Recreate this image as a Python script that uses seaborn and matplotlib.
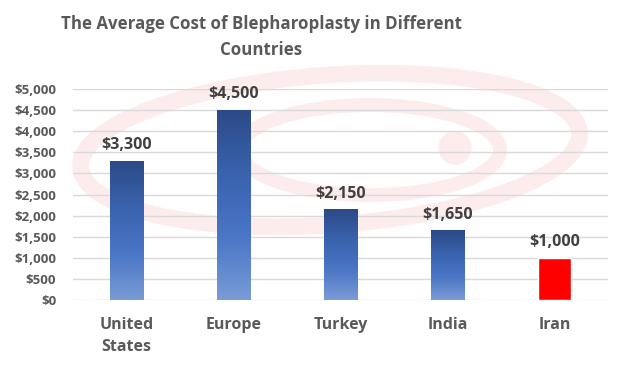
import numpy as np
import pandas as pd
import matplotlib.pyplot as plt
import seaborn as sns
from matplotlib.patches import Ellipse, Circle
from matplotlib.colors import LinearSegmentedColormap

countries = ["United\nStates", "Europe", "Turkey", "India", "Iran"]
costs = [3300, 4500, 2150, 1650, 1000]
bar_colors = ["#4472C4", "#4472C4", "#4472C4", "#4472C4", "#FF0000"]
label_texts = ["$3,300", "$4,500", "$2,150", "$1,650", "$1,000"]

df = pd.DataFrame({"country": countries, "cost": costs})

sns.set_theme(style="white")
plt.rcParams["font.family"] = ["Open Sans", "DejaVu Sans"]

fig = plt.figure(figsize=(6.18, 3.66), dpi=100)

# faint watermark logo behind the chart
bg = fig.add_axes([0, 0, 1, 1], zorder=-1)
bg.set_xlim(0, 618)
bg.set_ylim(366, 0)
bg.axis("off")
wm = "#fdecec"
bg.add_patch(Ellipse((330, 150), 500, 150, angle=-4, fill=False, ec=wm, lw=12))
bg.add_patch(Ellipse((370, 150), 260, 90, fill=False, ec=wm, lw=10))
bg.add_patch(Circle((455, 148), 16, color=wm))

ax = fig.add_axes([0.118, 0.18, 0.866, 0.577])
sns.barplot(data=df, x="country", y="cost", hue="country", palette=bar_colors,
            legend=False, width=0.31, ax=ax, zorder=3, saturation=1)

# gradient fill for the blue bars
cmap = LinearSegmentedColormap.from_list("blu", ["#7a9bd6", "#4a76c6", "#3a62ad", "#2b4a86"])
grad = np.linspace(0, 1, 256).reshape(-1, 1)
for i, bar in enumerate(ax.patches):
    if i == 4:
        continue
    x0, y0 = bar.get_x(), bar.get_y()
    w, h = bar.get_width(), bar.get_height()
    im = ax.imshow(grad, cmap=cmap, origin="lower", aspect="auto",
                   extent=[x0, x0 + w, y0, y0 + h], zorder=4)
    im.set_clip_path(bar)
    bar.set_edgecolor("#6f8fcf")
    bar.set_linewidth(0.6)

ax.set_xlim(-0.5, 4.5)
ax.set_ylim(0, 5000)
ax.set_yticks(np.arange(0, 5001, 500))
ax.set_yticklabels([f"${v:,}" for v in range(0, 5001, 500)])
ax.grid(axis="y", color="#d9d9d9", lw=1, zorder=0)
ax.set_facecolor("none")
for s in ax.spines.values():
    s.set_visible(False)
ax.tick_params(axis="y", length=0, pad=12, labelsize=9.5, labelcolor="#595959")
ax.tick_params(axis="x", length=0, pad=12, labelsize=11.5, labelcolor="#595959")
for t in ax.get_yticklabels() + ax.get_xticklabels():
    t.set_fontweight("bold")
    t.set_linespacing(1.5)
ax.set_xlabel("")
ax.set_ylabel("")

for i, (v, txt) in enumerate(zip(costs, label_texts)):
    ax.text(i, v + 180, txt, ha="center", va="bottom", fontsize=11.5,
            fontweight="bold", color="#404040", zorder=5)

fig.text(0.423, 0.899, "The Average Cost of Blepharoplasty in Different\nCountries",
         ha="center", va="center", fontsize=12.2, fontweight="bold", color="#595959",
         linespacing=1.55)

fig.savefig("out.png", dpi=100)
